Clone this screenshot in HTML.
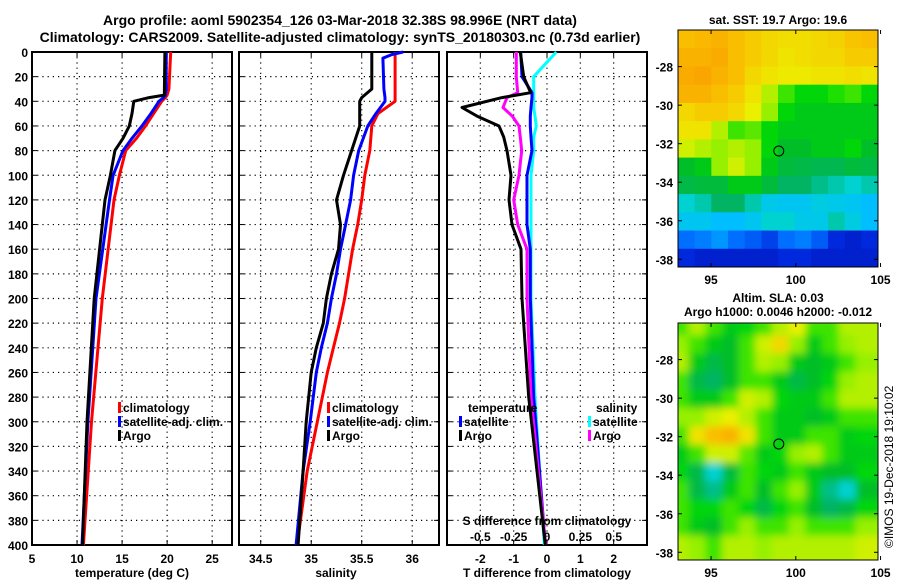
<!DOCTYPE html>
<html><head><meta charset="utf-8">
<style>
html,body{margin:0;padding:0;background:#fff;}
svg{display:block;font-family:"Liberation Sans",sans-serif;font-weight:bold;}
</style></head>
<body>
<svg id="chart" width="900" height="580" viewBox="0 0 900 580" xmlns="http://www.w3.org/2000/svg">
<defs>
<filter id="blur" x="0" y="0" width="1" height="1"><feGaussianBlur stdDeviation="4"/></filter>
<clipPath id="clipSla"><rect x="678" y="323" width="200" height="237"/></clipPath>
</defs>
<text x="340" y="25" text-anchor="middle" font-size="14">Argo profile: aoml 5902354_126 03-Mar-2018 32.38S 98.996E (NRT data)</text>
<text x="340" y="42" text-anchor="middle" font-size="14">Climatology: CARS2009. Satellite-adjusted climatology: synTS_20180303.nc (0.73d earlier)</text>
<text x="778" y="24" text-anchor="middle" font-size="12">sat. SST: 19.7 Argo: 19.6</text>
<text x="778" y="302" text-anchor="middle" font-size="12">Altim. SLA: 0.03</text>
<text x="778" y="316" text-anchor="middle" font-size="12">Argo h1000: 0.0046 h2000: -0.012</text>
<text transform="translate(893,548) rotate(-90)" font-size="12" font-weight="normal">©IMOS 19-Dec-2018 19:10:02</text>
<g id="layer"></g>
</svg>
<script>
// ---- data ----
const depths = [0,30,35,37,40,50,60,70,80,100,120,200,300,400];
const tempClim = [20.4,20.2,20.0,19.8,19.4,18.5,17.6,16.6,15.4,14.7,14.1,12.8,11.6,10.7];
const tempSat  = [19.9,19.9,19.8,19.6,19.1,18.2,17.2,16.1,15.1,14.0,13.6,12.1,11.2,10.55];
const tempArgo = [19.75,19.7,19.7,18.0,16.3,16.1,15.8,15.1,14.2,13.7,13.1,11.9,11.1,10.6];

const sDepths = [0,2,5,30,37,40,50,60,80,100,120,140,160,180,200,220,240,260,300,340,400];
const salClim = [35.83,35.83,35.83,35.83,35.83,35.83,35.66,35.6,35.58,35.53,35.5,35.46,35.41,35.37,35.33,35.28,35.22,35.16,35.06,34.96,34.86];
const salSat  = [35.91,35.8,35.71,35.72,35.73,35.73,35.64,35.56,35.47,35.42,35.39,35.34,35.29,35.25,35.2,35.16,35.1,35.05,34.99,34.92,34.85];
const salArgo = [35.6,35.6,35.6,35.6,35.5,35.48,35.48,35.48,35.4,35.32,35.25,35.29,35.27,35.2,35.15,35.12,35.05,35.0,34.95,34.92,34.87];

const dDepths = [0,20,33,37,45,52,60,69,80,100,120,140,160,200,280,400];
const tDiffArgo = [-0.8,-0.7,-0.49,-1.35,-2.55,-2.1,-1.44,-1.3,-1.2,-1.08,-1.14,-1.05,-0.78,-0.75,-0.55,-0.05];
const tDiffSat  = [-0.79,-0.75,-0.45,-0.45,-0.48,-0.5,-0.5,-0.48,-0.45,-0.6,-0.6,-0.6,-0.5,-0.5,-0.4,-0.05];
const sDiffArgo = [-0.23,-0.23,-0.22,-0.3,-0.33,-0.26,-0.21,-0.2,-0.19,-0.21,-0.25,-0.22,-0.15,-0.15,-0.12,-0.01];
const sDiffSat  = [0.07,-0.1,-0.1,-0.1,-0.1,-0.09,-0.08,-0.1,-0.1,-0.12,-0.12,-0.12,-0.12,-0.12,-0.09,-0.02];

const depthTicks = [0,20,40,60,80,100,120,140,160,180,200,220,240,260,280,300,320,340,360,380,400];
const tempTicks = [5,10,15,20,25];
const salTicks = [34.5,35,35.5,36];
const tDiffTicks = [-2,-1,0,1,2];
const sDiffTicks = [-0.5,-0.25,0,0.25,0.5];
const sDiffTickLabels = ["-0.5","-0.25","0","0.25","0.5"];
const lonTicks = [95,100,105];
const latTicks = [-28,-30,-32,-34,-36,-38];
const argoLon = 98.996, argoLat = -32.38;

const sstGrid = [
[0.72,0.73,0.74,0.72,0.7,0.68,0.67,0.67,0.68,0.69,0.71,0.72],
[0.74,0.74,0.75,0.72,0.7,0.68,0.66,0.67,0.68,0.68,0.7,0.7],
[0.75,0.76,0.74,0.72,0.68,0.66,0.65,0.65,0.66,0.66,0.67,0.66],
[0.74,0.74,0.72,0.7,0.66,0.6,0.55,0.52,0.52,0.54,0.55,0.52],
[0.68,0.7,0.7,0.68,0.64,0.58,0.52,0.5,0.5,0.5,0.5,0.5],
[0.66,0.66,0.6,0.55,0.56,0.52,0.5,0.5,0.5,0.5,0.5,0.5],
[0.62,0.6,0.58,0.6,0.58,0.52,0.48,0.48,0.5,0.5,0.52,0.48],
[0.48,0.5,0.58,0.62,0.58,0.5,0.46,0.45,0.44,0.44,0.46,0.45],
[0.45,0.46,0.46,0.5,0.5,0.46,0.42,0.42,0.4,0.38,0.36,0.38],
[0.36,0.38,0.42,0.42,0.38,0.33,0.32,0.32,0.34,0.33,0.32,0.3],
[0.32,0.32,0.3,0.3,0.32,0.36,0.36,0.33,0.33,0.38,0.34,0.3],
[0.2,0.22,0.25,0.2,0.18,0.15,0.2,0.22,0.18,0.12,0.1,0.12],
[0.12,0.1,0.1,0.1,0.1,0.1,0.12,0.12,0.1,0.1,0.1,0.1]];
const slaGrid = [
[0.55,0.6,0.55,0.5,0.52,0.55,0.6,0.64,0.55,0.55,0.6,0.6],
[0.58,0.55,0.5,0.48,0.55,0.62,0.68,0.58,0.5,0.55,0.58,0.6],
[0.6,0.5,0.45,0.48,0.55,0.6,0.58,0.5,0.48,0.5,0.55,0.58],
[0.55,0.45,0.42,0.48,0.55,0.55,0.5,0.45,0.48,0.52,0.58,0.6],
[0.55,0.5,0.5,0.55,0.62,0.6,0.52,0.5,0.5,0.55,0.6,0.6],
[0.58,0.58,0.62,0.64,0.6,0.55,0.5,0.5,0.48,0.5,0.55,0.55],
[0.55,0.66,0.72,0.74,0.66,0.55,0.5,0.5,0.55,0.55,0.5,0.52],
[0.5,0.55,0.62,0.62,0.56,0.5,0.52,0.58,0.6,0.55,0.5,0.5],
[0.52,0.45,0.36,0.46,0.55,0.52,0.5,0.55,0.5,0.48,0.48,0.52],
[0.55,0.45,0.4,0.5,0.55,0.48,0.55,0.58,0.5,0.4,0.36,0.48],
[0.55,0.52,0.52,0.55,0.52,0.45,0.52,0.55,0.48,0.42,0.45,0.52],
[0.55,0.5,0.48,0.55,0.58,0.55,0.55,0.58,0.55,0.55,0.55,0.58],
[0.6,0.58,0.55,0.6,0.6,0.58,0.6,0.6,0.6,0.6,0.6,0.62]];

// ---- helpers ----
const NS = "http://www.w3.org/2000/svg";
const layer = document.getElementById('layer');
function mk(tag, attrs, parent){
  const e = document.createElementNS(NS, tag);
  for (const k in attrs) e.setAttribute(k, attrs[k]);
  (parent||layer).appendChild(e);
  return e;
}
function txt(x,y,s,anchor,size,parent){
  const t = mk('text',{x:x,y:y,'text-anchor':anchor||'middle','font-size':size||12},parent);
  t.textContent = s; return t;
}
const PT = 52, PB = 545;
const yD = d => PT + d*(PB-PT)/400;
function lin(d0,d1,r0,r1){ return v => r0 + (v-d0)*(r1-r0)/(d1-d0); }
const xT = lin(5,27.2,32,232);
const xS = lin(34.285,36.265,239,439);
const xTd = lin(-3,3,447,647);
const xSd = v => xTd(v*4);

function panel(name, x0, x1, xTicksV, xScale, xLabels){
  const g = mk('g',{});
  
  
  depthTicks.forEach(d=>{
    if(d>0 && d<400){ const l = mk('line',{x1:x0,x2:x1,y1:yD(d),y2:yD(d),stroke:'#000','stroke-width':1.2,'stroke-dasharray':'1.2,4'},g);
        }
    mk('line',{x1:x0,x2:x0+5,y1:yD(d),y2:yD(d),stroke:'#000'},g);
    mk('line',{x1:x1-5,x2:x1,y1:yD(d),y2:yD(d),stroke:'#000'},g);
  });
  xTicksV.forEach(v=>{
    const x = xScale(v);
    if(x>x0+1 && x<x1-1){ const l = mk('line',{x1:x,x2:x,y1:PT,y2:PB,stroke:'#000','stroke-width':1.2,'stroke-dasharray':'1.2,4'},g);
        }
    mk('line',{x1:x,x2:x,y1:PB-5,y2:PB,stroke:'#000'},g);
    mk('line',{x1:x,x2:x,y1:PT,y2:PT+5,stroke:'#000'},g);
  });
  xTicksV.forEach((v,i)=>{ const t = txt(xScale(v), 563, xLabels[i]);
      });
  const f = mk('rect',{x:x0,y:PT,width:x1-x0,height:PB-PT,fill:'none',stroke:'#000','stroke-width':2},g);
   
  return g;
}
function profile(vals, ds, xs, color, name){
  const pts = vals.map((v,i)=> xs(v).toFixed(1)+','+yD(ds[i]).toFixed(1)).join(' ');
  const p = mk('polyline',{points:pts,fill:'none',stroke:color,'stroke-width':3,'stroke-linejoin':'round'});
  
  
}
function legendItem(x,y,color,label){
  const r = mk('rect',{x:x,y:y-10,width:3,height:11,fill:color});
  
  
  const t = txt(x+5,y,label,'start');
  
  
}

// panel 1 temperature
panel('temperature-panel',32,232,tempTicks,xT,tempTicks.map(String));
depthTicks.forEach(d=>{ const t = txt(28, yD(d)+5, String(d),'end');
    });
profile(tempClim,depths,xT,'#ff0000','temp-climatology-line');
profile(tempSat,depths,xT,'#0000ff','temp-satellite-line');
profile(tempArgo,depths,xT,'#000000','temp-argo-line');
legendItem(118,412,'#ff0000','climatology');
legendItem(118,426,'#0000ff','satellite-adj. clim.');
legendItem(118,440,'#000000','Argo');
let t1 = txt(132,577,'temperature (deg C)');  

// panel 2 salinity
panel('salinity-panel',239,439,salTicks,xS,salTicks.map(String));
profile(salClim,sDepths,xS,'#ff0000','sal-climatology-line');
profile(salSat,sDepths,xS,'#0000ff','sal-satellite-line');
profile(salArgo,sDepths,xS,'#000000','sal-argo-line');
legendItem(327,412,'#ff0000','climatology');
legendItem(327,426,'#0000ff','satellite-adj. clim.');
legendItem(327,440,'#000000','Argo');
let t2 = txt(336,577,'salinity');  

// panel 3 differences
panel('difference-panel',447,647,tDiffTicks,xTd,tDiffTicks.map(String));
profile(sDiffSat,dDepths,xSd,'#00ffff','sal-diff-satellite-line');
profile(tDiffSat,dDepths,xTd,'#0000ff','temp-diff-satellite-line');
profile(sDiffArgo,dDepths,xSd,'#ff00ff','sal-diff-argo-line');
profile(tDiffArgo,dDepths,xTd,'#000000','temp-diff-argo-line');
let t3 = txt(468,412,'temperature','start');  
legendItem(459,426,'#0000ff','satellite');
legendItem(459,440,'#000000','Argo');
let t4 = txt(596,412,'salinity','start');  
legendItem(588,426,'#00ffff','satellite');
legendItem(588,440,'#ff00ff','Argo');
let t5 = txt(547,525,'S difference from climatology');  
sDiffTicks.forEach((v,i)=>{ const t = txt(xSd(v),541,sDiffTickLabels[i]);
    });
let t6 = txt(547,577,'T difference from climatology');  

// maps
const cmapStops = [
 [0.0,[0,0,130]],[0.12,[0,40,220]],[0.2,[0,110,255]],[0.3,[0,190,255]],[0.36,[0,210,210]],
 [0.42,[0,180,100]],[0.48,[0,190,40]],[0.53,[0,220,0]],[0.58,[150,240,0]],[0.64,[235,240,0]],
 [0.72,[250,190,0]],[0.8,[250,140,0]],[1.0,[200,40,0]]];
function cmap(v){
  for(let i=1;i<cmapStops.length;i++){
    if(v<=cmapStops[i][0]){
      const a=cmapStops[i-1], b=cmapStops[i], f=(v-a[0])/(b[0]-a[0]);
      return 'rgb('+a[1].map((c,k)=>Math.round(c+(b[1][k]-c)*f)).join(',')+')';
    }
  }
  return 'rgb(200,40,0)';
}
function mapPanel(name, top, grid, blur){
  const L=678, W=200, H=237;
  const lonX = lin(93.05,104.85,L,L+W);
  const latY = lin(-26.1,-38.4,top,top+H);
  const g = mk('g',{});
  
  
  const cg = mk('g', blur ? {filter:'url(#blur)'} : {}, g);
  const cw = W/grid[0].length, ch = H/grid.length;
  grid.forEach((row,r)=>row.forEach((v,c)=>{
    const cell = mk('rect',{x:L+c*cw-(blur?6:0),y:top+r*ch-(blur?6:0),width:cw+(blur?12:0.5),height:ch+(blur?12:0.5),fill:cmap(v)},cg);
    
    
  }));
  if(blur){ cg.setAttribute('clip-path','url(#clipSla)'); }
  const circ = mk('circle',{cx:lonX(argoLon),cy:latY(argoLat),r:5,fill:'none',stroke:'#000','stroke-width':1},g);
  
  
  const fr = mk('rect',{x:L,y:top,width:W,height:H,fill:'none',stroke:'#000','stroke-width':1},g);
   
  latTicks.forEach(v=>{
    const y = latY(v);
    mk('line',{x1:L,x2:L+4,y1:y,y2:y,stroke:'#000'},g);
    mk('line',{x1:L+W-4,x2:L+W,y1:y,y2:y,stroke:'#000'},g);
    const t = txt(673,y+5,String(v),'end',12,g);
     
  });
  lonTicks.forEach(v=>{
    const x = lonX(v);
    mk('line',{x1:x,x2:x,y1:top+H-4,y2:top+H,stroke:'#000'},g);
    mk('line',{x1:x,x2:x,y1:top,y2:top+4,stroke:'#000'},g);
    const t = txt(x,top+H+17,String(v),'middle',12,g);
     
  });
}
mapPanel('sst-map',30,sstGrid,false);
mapPanel('sla-map',323,slaGrid,true);
</script>
</body></html>
